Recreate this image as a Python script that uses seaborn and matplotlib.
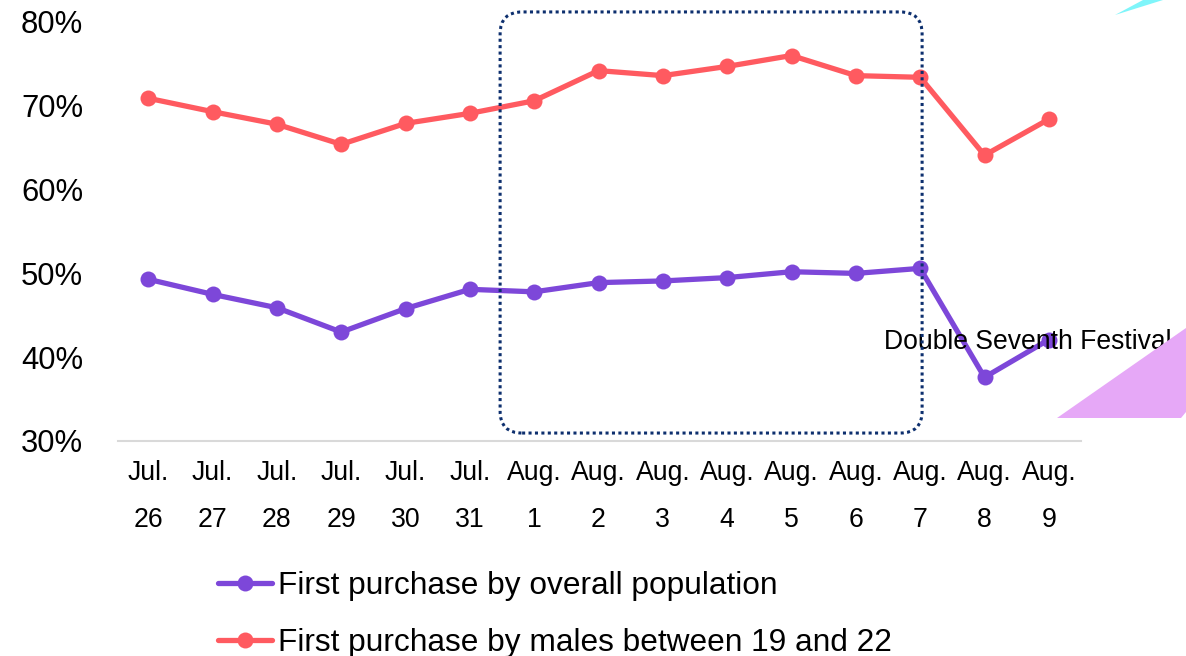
import numpy as np
import pandas as pd
import matplotlib
matplotlib.use('Agg')
import matplotlib.pyplot as plt
from matplotlib.patches import FancyBboxPatch, Polygon
import seaborn as sns

# chart data
day_labels = ["Jul.\n26", "Jul.\n27", "Jul.\n28", "Jul.\n29", "Jul.\n30", "Jul.\n31",
              "Aug.\n1", "Aug.\n2", "Aug.\n3", "Aug.\n4", "Aug.\n5", "Aug.\n6",
              "Aug.\n7", "Aug.\n8", "Aug.\n9"]
overall = [49.3, 47.5, 45.9, 43.0, 45.8, 48.1, 47.8, 48.9, 49.1, 49.5, 50.2, 50.0, 50.6, 37.6, 42.1]
males_19_22 = [70.9, 69.3, 67.8, 65.4, 67.9, 69.1, 70.6, 74.2, 73.6, 74.7, 76.0, 73.6, 73.4, 64.1, 68.4]
series_names = ["First purchase by overall population", "First purchase by males between 19 and 22"]
highlight_span = (5.47, 12.03)   # Jul 31/Aug 1 gap .. Aug 7
highlight_vals = (30.95, 81.2)
festival_note = "Double Seventh Festival"

df = pd.DataFrame({
    "day": list(range(len(day_labels))) * 2,
    "value": overall + males_19_22,
    "series": [series_names[0]] * len(overall) + [series_names[1]] * len(males_19_22),
})

sns.set_theme(style="white")
plt.rcParams['font.family'] = ['Liberation Sans', 'DejaVu Sans']
plt.rcParams['text.color'] = 'black'
plt.rcParams['xtick.color'] = 'black'
plt.rcParams['ytick.color'] = 'black'

fig = plt.figure(figsize=(11.86, 6.56), dpi=100)
ax = fig.add_axes([118 / 1186, 1 - 441 / 656, (1081 - 118) / 1186, (441 - 22) / 656])

palette = {series_names[0]: "#7d47d9", series_names[1]: "#ff5a60"}
sns.lineplot(data=df, x="day", y="value", hue="series", palette=palette,
             marker="o", markersize=11.5, markeredgewidth=0, linewidth=3.8,
             ax=ax, legend=True)

ax.set_xlim(-0.47, 14.5)
ax.set_ylim(30, 80)
ax.set_yticks([30, 40, 50, 60, 70, 80])
ax.set_yticklabels([f"{v}%" for v in [30, 40, 50, 60, 70, 80]], fontsize=22.3)
ax.set_xticks(range(len(day_labels)))
ax.set_xticklabels(day_labels, fontsize=19.2, linespacing=2.05)
ax.tick_params(axis='y', length=0, pad=25)
ax.tick_params(axis='x', length=0, pad=14)
ax.set_xlabel("")
ax.set_ylabel("")
for side in ["top", "right", "left"]:
    ax.spines[side].set_visible(False)
ax.spines["bottom"].set_color("#d9d9d9")
ax.spines["bottom"].set_linewidth(1.5)
ax.grid(False)

# dotted rounded highlight box, built in display space so corners stay round
fig.canvas.draw()
(x0, y0) = ax.transData.transform((highlight_span[0], highlight_vals[0]))
(x1, y1) = ax.transData.transform((highlight_span[1], highlight_vals[1]))
box = FancyBboxPatch((x0 + 22, y0 + 22), (x1 - x0) - 44, (y1 - y0) - 44,
                     boxstyle="round,pad=22", fill=False, edgecolor="#0d2f6e",
                     linewidth=2.2, linestyle=(0, (1, 1.1)), transform=None,
                     clip_on=False)
fig.add_artist(box)

ax.text(13.67, 41.8, festival_note, fontsize=19.1, ha="center", va="center", color="black")

# decorative corner shapes
fig.add_artist(Polygon([(1115 / 1186, 1 - 15 / 656), (1143 / 1186, 1.0), (1163 / 1186, 1.0)],
                       closed=True, transform=fig.transFigure, facecolor="#7ff5fa",
                       edgecolor="none"))
fig.add_artist(Polygon([(1057 / 1186, 1 - 418 / 656), (1.0, 1 - 328 / 656),
                        (1.0, 1 - 412 / 656), (1181 / 1186, 1 - 418 / 656)],
                       closed=True, transform=fig.transFigure, facecolor="#e6a8f7",
                       edgecolor="none"))

handles, labels = ax.get_legend_handles_labels()
ax.legend(handles, labels, loc="upper left", bbox_to_anchor=(218 / 1186, 1 - 571 / 656),
          bbox_transform=fig.transFigure, frameon=False, fontsize=22.8,
          handlelength=1.7, handletextpad=0.2, labelspacing=0.85,
          borderpad=0, borderaxespad=0)

fig.savefig("out.png", dpi=100)
